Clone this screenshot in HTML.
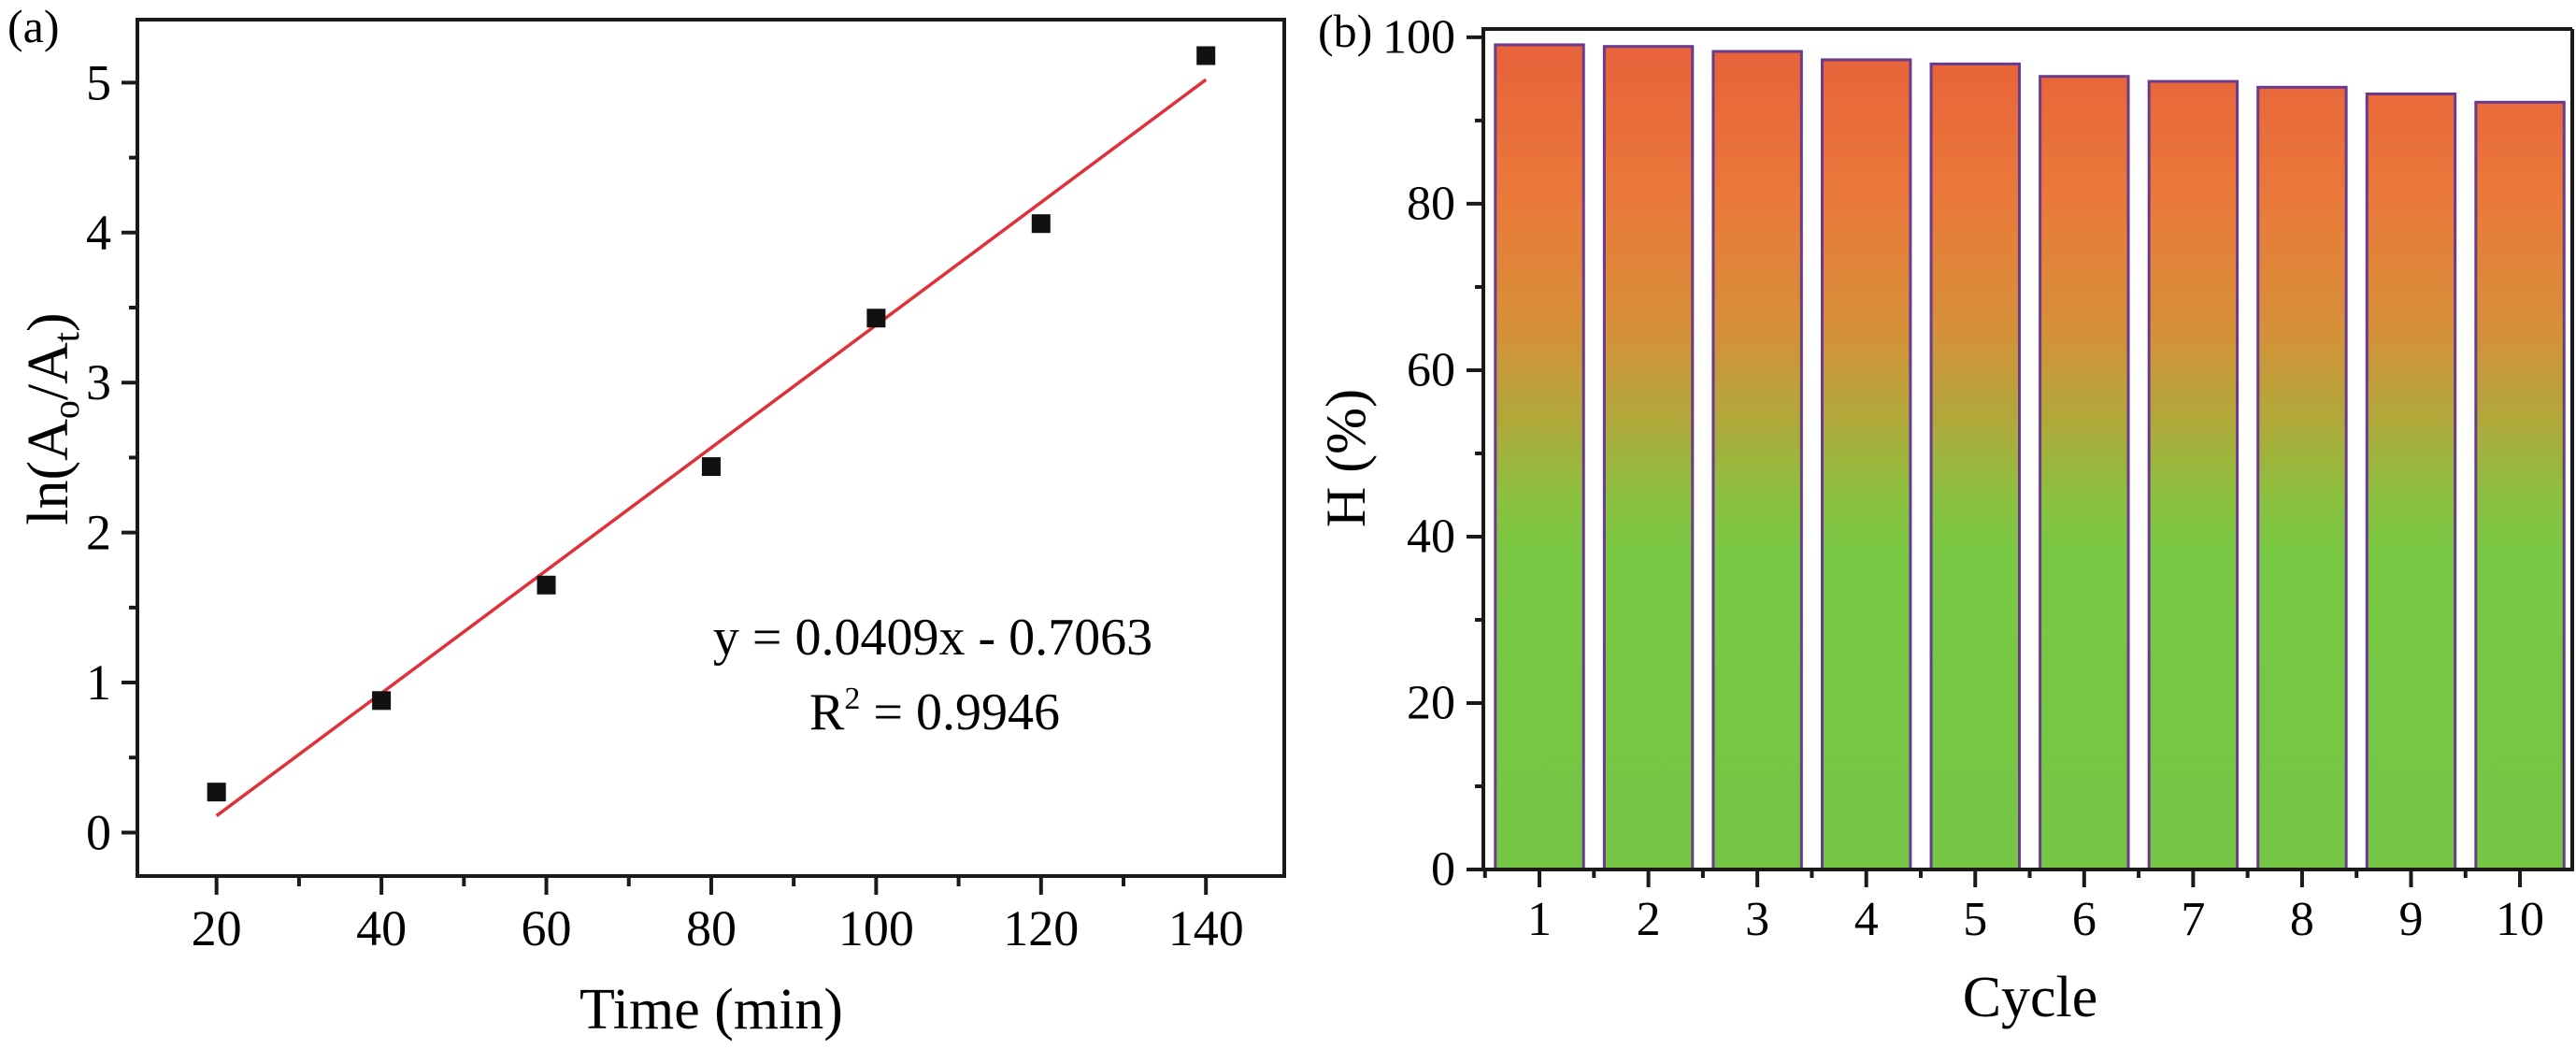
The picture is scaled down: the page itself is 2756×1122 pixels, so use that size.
<!DOCTYPE html>
<html><head><meta charset="utf-8"><style>
html,body{margin:0;padding:0;background:#fff;}
svg{display:block;font-family:"Liberation Serif",serif;}
</style></head><body>
<svg id="fig" width="2756" height="1122" viewBox="0 0 2756 1122" xmlns="http://www.w3.org/2000/svg">
<defs>
<linearGradient id="barGrad" gradientUnits="userSpaceOnUse" x1="0" y1="40" x2="0" y2="930">
<stop offset="0" stop-color="#e8603a"/>
<stop offset="0.2" stop-color="#ea7a3a"/>
<stop offset="0.35" stop-color="#d69038"/>
<stop offset="0.45" stop-color="#b4a63a"/>
<stop offset="0.55" stop-color="#8cc03e"/>
<stop offset="0.62" stop-color="#78c843"/>
<stop offset="1" stop-color="#74c644"/>
</linearGradient>
</defs>
<g id="pa"></g>
<g id="pb"></g>
</svg>
<script>
// Panel (a) data
const timeVals = [20, 40, 60, 80, 100, 120, 140];
const lnVals = [0.27, 0.88, 1.65, 2.44, 3.43, 4.06, 5.18];
const fitSlope = [0.0409];
const fitIntercept = [-0.7063];
const aXTicks = [20, 40, 60, 80, 100, 120, 140];
const aYTicks = [0, 1, 2, 3, 4, 5];
// Panel (b) data
const cycles = ["1","2","3","4","5","6","7","8","9","10"];
const hVals = [99.1, 98.9, 98.3, 97.3, 96.8, 95.3, 94.7, 94.0, 93.2, 92.2];
const bYTicks = [0, 20, 40, 60, 80, 100];

const NS = "http://www.w3.org/2000/svg";
function mk(parent, tag, attrs, text){
  const e = document.createElementNS(NS, tag);
  for (const k in attrs) e.setAttribute(k, attrs[k]);
  if (text !== undefined) e.textContent = text;
  parent.appendChild(e);
  return e;
}
// ---------- Panel A ----------
const pa = document.getElementById('pa');
const A = {l:147, r:1374, t:21, b:937, x0:10.4, x1:149.5, y0:-0.29, y1:5.42};
const ax = v => A.l + (v - A.x0) / (A.x1 - A.x0) * (A.r - A.l);
const ay = v => A.b - (v - A.y0) / (A.y1 - A.y0) * (A.b - A.t);
let e;
e = mk(pa, 'rect', {x:A.l, y:A.t, width:A.r-A.l, height:A.b-A.t, fill:'none', stroke:'#1a1a1a', 'stroke-width':4});


aYTicks.forEach(v => {
  let t = mk(pa, 'line', {x1:A.l-17, x2:A.l, y1:ay(v), y2:ay(v), stroke:'#1a1a1a', 'stroke-width':4});
  
  
  let lb = mk(pa, 'text', {x:A.l-28, y:ay(v), 'text-anchor':'end', 'dominant-baseline':'central', 'font-size':54}, String(v));
  
  
  if (v < 5) {
    let m = mk(pa, 'line', {x1:A.l-9, x2:A.l, y1:ay(v+0.5), y2:ay(v+0.5), stroke:'#1a1a1a', 'stroke-width':4});
    
    
  }
});
aXTicks.forEach(v => {
  let t = mk(pa, 'line', {x1:ax(v), x2:ax(v), y1:A.b, y2:A.b+20, stroke:'#1a1a1a', 'stroke-width':4});
  
  
  let lb = mk(pa, 'text', {x:ax(v), y:1011, 'text-anchor':'middle', 'font-size':54}, String(v));
  
  
  if (v < 140) {
    let m = mk(pa, 'line', {x1:ax(v+10), x2:ax(v+10), y1:A.b, y2:A.b+11, stroke:'#1a1a1a', 'stroke-width':4});
    
    
  }
});
const fx0 = timeVals[0], fx1 = timeVals[timeVals.length-1];
e = mk(pa, 'line', {x1:ax(fx0), y1:ay(fitSlope[0]*fx0+fitIntercept[0]), x2:ax(fx1), y2:ay(fitSlope[0]*fx1+fitIntercept[0]), stroke:'#e0303a', 'stroke-width':3.5});


timeVals.forEach((t, i) => {
  let p = mk(pa, 'rect', {x:ax(t)-10, y:ay(lnVals[i])-10, width:20, height:20, fill:'#111'});
  
  
});
e = mk(pa, 'text', {x:998, y:700, 'text-anchor':'middle', 'font-size':56}, 'y = 0.0409x - 0.7063');


e = mk(pa, 'text', {x:1000, y:780, 'text-anchor':'middle', 'font-size':56});


e.innerHTML = 'R<tspan dy="-22" font-size="34">2</tspan><tspan dy="22"> = 0.9946</tspan>';
e = mk(pa, 'text', {x:761, y:1100, 'text-anchor':'middle', 'font-size':62}, 'Time (min)');


e = mk(pa, 'text', {transform:'translate(72,448) rotate(-90)', 'text-anchor':'middle', 'font-size':62});


e.innerHTML = 'ln(A<tspan dy="12" font-size="40">o</tspan><tspan dy="-12">/A</tspan><tspan dy="12" font-size="40">t</tspan><tspan dy="-12">)</tspan>';
e = mk(pa, 'text', {x:8, y:45, 'font-size':50}, '(a)');



// ---------- Panel B ----------
const pb = document.getElementById('pb');
const B = {l:1587, r:2752, t:31, b:930, x0:0.485, x1:10.48, y0:0, y1:101};
const bx = v => B.l + (v - B.x0) / (B.x1 - B.x0) * (B.r - B.l);
const by = v => B.b - (v - B.y0) / (B.y1 - B.y0) * (B.b - B.t);
const bw = 0.81 * (bx(2) - bx(1));
cycles.forEach((c, i) => {
  const cx = bx(i+1);
  let r = mk(pb, 'rect', {x:cx-bw/2, y:by(hVals[i]), width:bw, height:by(0)-by(hVals[i]), fill:'url(#barGrad)', stroke:'#6a3a8c', 'stroke-width':3});
  
  
});
e = mk(pb, 'polyline', {points:`${B.r},${B.t} ${B.l},${B.t} ${B.l},${B.b} ${B.r},${B.b} ${B.r},${B.t}`, fill:'none', stroke:'#1a1a1a', 'stroke-width':4});


bYTicks.forEach(v => {
  let t = mk(pb, 'line', {x1:B.l-18, x2:B.l, y1:by(v), y2:by(v), stroke:'#1a1a1a', 'stroke-width':4});
  
  
  let lb = mk(pb, 'text', {x:B.l-30, y:by(v), 'text-anchor':'end', 'dominant-baseline':'central', 'font-size':52}, String(v));
  
  
  if (v < 100) {
    let m = mk(pb, 'line', {x1:B.l-9, x2:B.l, y1:by(v+10), y2:by(v+10), stroke:'#1a1a1a', 'stroke-width':4});
    
    
  }
});
cycles.forEach((c, i) => {
  const cx = bx(i+1);
  let t = mk(pb, 'line', {x1:cx, x2:cx, y1:B.b, y2:B.b+19, stroke:'#1a1a1a', 'stroke-width':4});
  
  
  let m = mk(pb, 'line', {x1:bx(i+0.5), x2:bx(i+0.5), y1:B.b, y2:B.b+9, stroke:'#1a1a1a', 'stroke-width':4});
  
  
  let lb = mk(pb, 'text', {x:cx, y:1000, 'text-anchor':'middle', 'font-size':52}, c);
  
  
});
e = mk(pb, 'text', {x:2172, y:1087, 'text-anchor':'middle', 'font-size':62}, 'Cycle');


e = mk(pb, 'text', {transform:'translate(1460,490) rotate(-90)', 'text-anchor':'middle', 'font-size':60}, 'H (%)');


e = mk(pb, 'text', {x:1410, y:50, 'font-size':50}, '(b)');


</script>
</body></html>
